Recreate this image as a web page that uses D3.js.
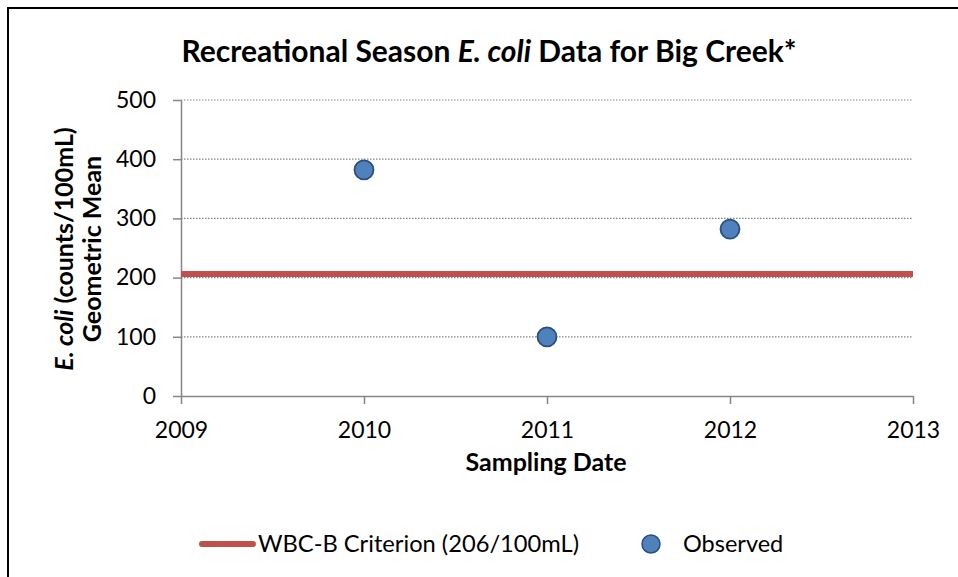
<!DOCTYPE html>
<html>
<head>
<meta charset="utf-8">
<script src="https://cdn.jsdelivr.net/npm/d3@7"></script>
<style>
  html, body { margin: 0; padding: 0; background: #fff; }
  svg { display: block; }
  text { font-family: Lato, "Open Sans", sans-serif; fill: #000; }
</style>
</head>
<body>
<svg id="chart" width="958" height="577"></svg>
<script>
// ---- data ----
const obsYears = [2010, 2011, 2012];
const obsValues = [382, 100, 282];
const criterionYears = [2009, 2013];
const criterionValues = [206, 206];
const xTicks = [2009, 2010, 2011, 2012, 2013];
const yTicks = [0, 100, 200, 300, 400, 500];
const titleParts = [
  { t: "Recreational Season ", i: false },
  { t: "E. coli", i: true },
  { t: " Data for Big Creek*", i: false }
];
const yTitle1 = [{ t: "E. coli", i: true }, { t: " (counts/100mL)", i: false }];
const yTitle2 = "Geometric Mean";
const xTitle = "Sampling Date";
const legendLabels = ["WBC-B Criterion (206/100mL)", "Observed"];

// ---- layout ----
const svg = d3.select("#chart");
const x = d3.scaleLinear().domain([2009, 2013]).range([181, 913]);
const y = d3.scaleLinear().domain([0, 500]).range([396, 100]);
const axisColor = "#868686";

// border
svg.append("rect").attr("x", 8).attr("y", 8).attr("width", 1000).attr("height", 1000)
  .attr("fill", "none").attr("stroke", "#000").attr("stroke-width", 2);

// title
const title = svg.append("text").attr("x", 489).attr("y", 62).attr("text-anchor", "middle")
  .attr("font-size", 30).attr("font-weight", "bold");
titleParts.forEach(p => title.append("tspan").text(p.t).attr("font-style", p.i ? "italic" : "normal"));

// gridlines
svg.append("g").selectAll("line").data(yTicks.filter(d => d > 0)).join("line")
  .attr("x1", x(2009)).attr("x2", x(2013))
  .attr("y1", d => y(d)).attr("y2", d => y(d))
  .attr("stroke", axisColor).attr("stroke-width", 1.2).attr("stroke-dasharray", "1.5,1.5");

// y axis
const yAxis = svg.append("g").attr("transform", `translate(${x(2009)},0)`)
  .call(d3.axisLeft(y).tickValues(yTicks).tickSize(8).tickPadding(17).tickSizeOuter(0));
yAxis.select(".domain").attr("stroke", axisColor).attr("stroke-width", 1.5);
yAxis.selectAll(".tick line").attr("stroke", axisColor).attr("stroke-width", 1.5);
yAxis.selectAll(".tick text").attr("font-size", 23).attr("font-family", "Lato").attr("fill", "#000");

// x axis
const xAxis = svg.append("g").attr("transform", `translate(0,${y(0)})`)
  .call(d3.axisBottom(x).tickValues(xTicks).tickFormat(d3.format("d")).tickSize(8).tickPadding(18).tickSizeOuter(0));
xAxis.select(".domain").attr("stroke", axisColor).attr("stroke-width", 1.5);
xAxis.selectAll(".tick line").attr("stroke", axisColor).attr("stroke-width", 1.5);
xAxis.selectAll(".tick text").attr("font-size", 23).attr("font-family", "Lato").attr("fill", "#000");

// criterion line
const line = d3.line().x(d => x(d[0])).y(d => y(d[1]));
svg.append("path").datum(criterionYears.map((yr, i) => [yr, criterionValues[i]]))
  .attr("d", line).attr("stroke", "#C0504D").attr("stroke-width", 6).attr("fill", "none");

// observed points
svg.append("g").selectAll("circle").data(obsYears.map((yr, i) => [yr, obsValues[i]])).join("circle")
  .attr("cx", d => x(d[0])).attr("cy", d => y(d[1])).attr("r", 9.5)
  .attr("fill", "#4F81BD").attr("stroke", "#2B4F7E").attr("stroke-width", 1.8);

// y title
const yt = svg.append("g").attr("transform", "translate(0,249) rotate(-90)");
const yt1 = yt.append("text").attr("x", 0).attr("y", 73).attr("text-anchor", "middle")
  .attr("font-size", 25).attr("font-weight", "bold");
yTitle1.forEach(p => yt1.append("tspan").text(p.t).attr("font-style", p.i ? "italic" : "normal"));
yt.append("text").attr("x", 0).attr("y", 101).attr("text-anchor", "middle")
  .attr("font-size", 25).attr("font-weight", "bold").text(yTitle2);

// x title
svg.append("text").attr("x", 546).attr("y", 471).attr("text-anchor", "middle")
  .attr("font-size", 25).attr("font-weight", "bold").text(xTitle);

// legend
const lg = svg.append("g");
lg.append("line").attr("x1", 202).attr("x2", 253).attr("y1", 544).attr("y2", 544)
  .attr("stroke", "#C0504D").attr("stroke-width", 6).attr("stroke-linecap", "round");
lg.append("text").attr("x", 258).attr("y", 552).attr("font-size", 23.7).text(legendLabels[0]);
lg.append("circle").attr("cx", 651).attr("cy", 544).attr("r", 9)
  .attr("fill", "#4F81BD").attr("stroke", "#2B4F7E").attr("stroke-width", 1.5);
lg.append("text").attr("x", 683).attr("y", 552).attr("font-size", 23.5).text(legendLabels[1]);
</script>
</body>
</html>
